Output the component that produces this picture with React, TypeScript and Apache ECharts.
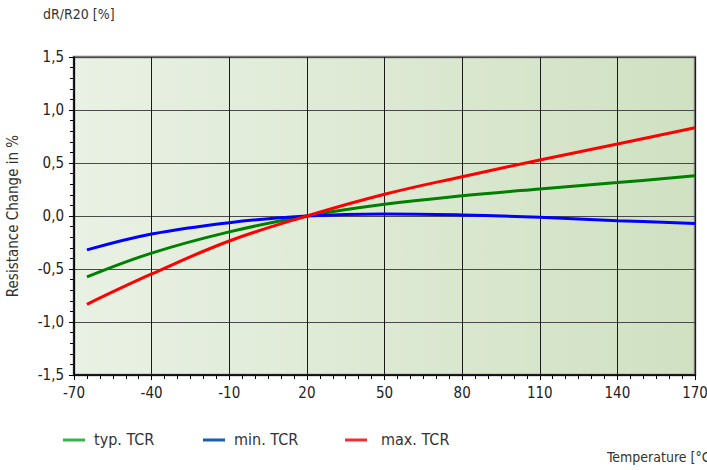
import React, { useEffect, useRef } from "react";
import * as echarts from "echarts";

const temps = [-65, -40, -10, 20, 50, 80, 110, 140, 170];
const typTCR = [-0.575, -0.35, -0.15, 0, 0.11, 0.19, 0.255, 0.315, 0.38];
const minTCR = [-0.32, -0.17, -0.063, 0, 0.02, 0.01, -0.012, -0.044, -0.07];
const maxTCR = [-0.833, -0.547, -0.236, 0, 0.205, 0.371, 0.528, 0.68, 0.833];

const legendNames = ["typ. TCR", "min. TCR", "max. TCR"];
const legendColors = ["#3cb04a", "#1d5bab", "#ee3030"];
const lineColors = ["#008000", "#0000ff", "#ff0000"];

const FONT = "'DejaVu Sans Condensed', 'Liberation Sans Narrow', 'Roboto', sans-serif";

function pairs(xs: number[], ys: number[]) {
  return xs.map((x, i) => [x, ys[i]]);
}

export default function App() {
  const ref = useRef<HTMLDivElement>(null);
  useEffect(() => {
    document.body.style.margin = "0";
    const chart = echarts.init(ref.current!, null, { renderer: "svg" });
    const seriesData = [typTCR, minTCR, maxTCR];
    const legendX = [63, 203, 345];
    const legendTextX = [94, 234, 381];
    const graphics: any[] = [
      {
        type: "text",
        left: 43,
        top: 7,
        style: { text: "dR/R20 [%]", fontFamily: FONT, fontSize: 14, fill: "#333" },
      },
      {
        type: "text",
        left: 607,
        top: 450,
        style: { text: "Temperature [°C]", fontFamily: FONT, fontSize: 14, fill: "#333" },
      },
    ];
    legendNames.forEach((n, i) => {
      graphics.push({
        type: "line",
        shape: { x1: legendX[i], y1: 440, x2: legendX[i] + 22, y2: 440 },
        style: { stroke: legendColors[i], lineWidth: 3 },
      });
      graphics.push({
        type: "text",
        left: legendTextX[i],
        top: 431,
        style: { text: n, fontFamily: FONT, fontSize: 16, fill: "#333" },
      });
    });
    chart.setOption({
      animation: false,
      textStyle: { fontFamily: FONT },
      grid: {
        left: 74,
        top: 57,
        width: 621,
        height: 318,
        outerBoundsMode: "none",
        containLabel: false,
        show: true,
        borderWidth: 2.5,
        borderColor: "#7a7a7a",
        backgroundColor: new echarts.graphic.LinearGradient(0, 0, 1, 0, [
          { offset: 0, color: "#e9f1e4" },
          { offset: 0.5, color: "#dde9d3" },
          { offset: 1, color: "#d0e1c2" },
        ]),
      },
      graphic: graphics,
      xAxis: {
        type: "value",
        min: -70,
        max: 170,
        interval: 30,
        axisLine: { show: true, onZero: false, lineStyle: { color: "#000", width: 1.5 } },
        axisTick: { show: true, length: 5, lineStyle: { color: "#000" } },
        minorTick: { show: true, splitNumber: 6, length: 4, lineStyle: { color: "#000" } },
        axisLabel: { fontSize: 15, color: "#222", margin: 10, fontFamily: FONT },
        splitLine: { show: true, lineStyle: { color: "#1a1a1a", width: 1 } },
      },
      yAxis: {
        type: "value",
        min: -1.5,
        max: 1.5,
        interval: 0.5,
        name: "Resistance Change in %",
        nameLocation: "middle",
        nameGap: 54,
        nameTextStyle: { fontSize: 15, color: "#333", fontFamily: FONT },
        axisLine: { show: true, onZero: false, lineStyle: { color: "#000", width: 1.5 } },
        axisTick: { show: true, length: 5, lineStyle: { color: "#000" } },
        minorTick: { show: true, splitNumber: 5, length: 4, lineStyle: { color: "#000" } },
        axisLabel: {
          fontSize: 15,
          color: "#222",
          margin: 10,
          fontFamily: FONT,
          formatter: (v: number) => v.toFixed(1).replace(".", ","),
        },
        splitLine: { show: true, lineStyle: { color: "#4a4a4a", width: 1.2 } },
      },
      series: seriesData.map((d, i) => ({
        type: "line",
        name: legendNames[i],
        data: pairs(temps, d),
        smooth: 0.4,
        showSymbol: false,
        lineStyle: { color: lineColors[i], width: 3 },
        z: 3 + i,
      })),
    });
    return () => chart.dispose();
  }, []);
  return <div ref={ref} style={{ width: 707, height: 470 }} />;
}
